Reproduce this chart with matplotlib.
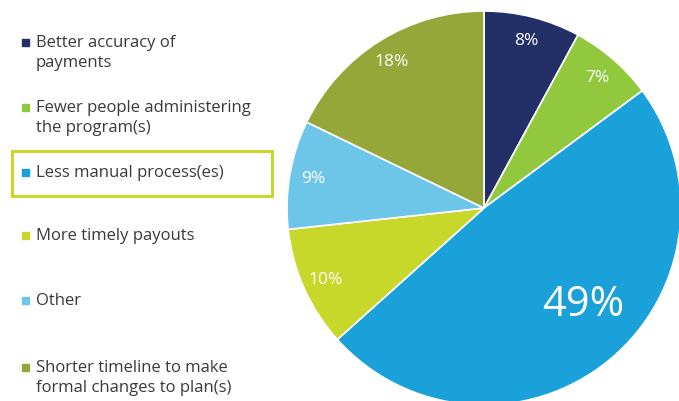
import matplotlib.pyplot as plt
from matplotlib.patches import Rectangle

plt.rcParams['font.family'] = ['Open Sans', 'DejaVu Sans']

labels = [
    "Better accuracy of\npayments",
    "Fewer people administering\nthe program(s)",
    "Less manual process(es)",
    "More timely payouts",
    "Other",
    "Shorter timeline to make\nformal changes to plan(s)",
]
values = [8, 7, 49, 10, 9, 18]
colors = ["#233068", "#92C83E", "#1BA1DA", "#C8D82A", "#6DC6E8", "#96A73A"]
highlight = 2  # index of the boxed legend entry

W, H = 679, 402
fig = plt.figure(figsize=(W / 100, H / 100), dpi=100)

# pie, in pixel-sized data units
ax = fig.add_axes([0, 0, 1, 1])
wedges, texts, autotexts = ax.pie(
    values, colors=colors, startangle=90, counterclock=False,
    center=(484, H - 209), radius=197,
    autopct=lambda p: f"{round(p * sum(values) / 100):.0f}%",
    pctdistance=0.88,
    wedgeprops=dict(edgecolor="white", linewidth=1.2),
    textprops=dict(color="white", fontsize=12.5),
)
big = autotexts[values.index(max(values))]
big.set_fontsize(30)
big.set_position((583, H - 305))
ax.set_xlim(0, W)
ax.set_ylim(0, H)
ax.set_aspect("equal")
ax.axis("off")

# legend drawn by hand on an overlay
lg = fig.add_axes([0, 0, 1, 1])
lg.set_xlim(0, W)
lg.set_ylim(H, 0)
lg.axis("off")
rows = [43, 108, 173, 236, 301, 368]
for lab, col, y in zip(labels, colors, rows):
    lg.add_patch(Rectangle((22, y - 3.5), 7, 7, color=col))
    lg.text(36, y - 8, lab, fontsize=12, color="#3a3a3a", va="top",
            linespacing=1.35)
lg.add_patch(Rectangle((12, 152), 260, 45, fill=False,
                       edgecolor="#C8D82A", linewidth=2.2))

fig.savefig("out.png", dpi=100)
